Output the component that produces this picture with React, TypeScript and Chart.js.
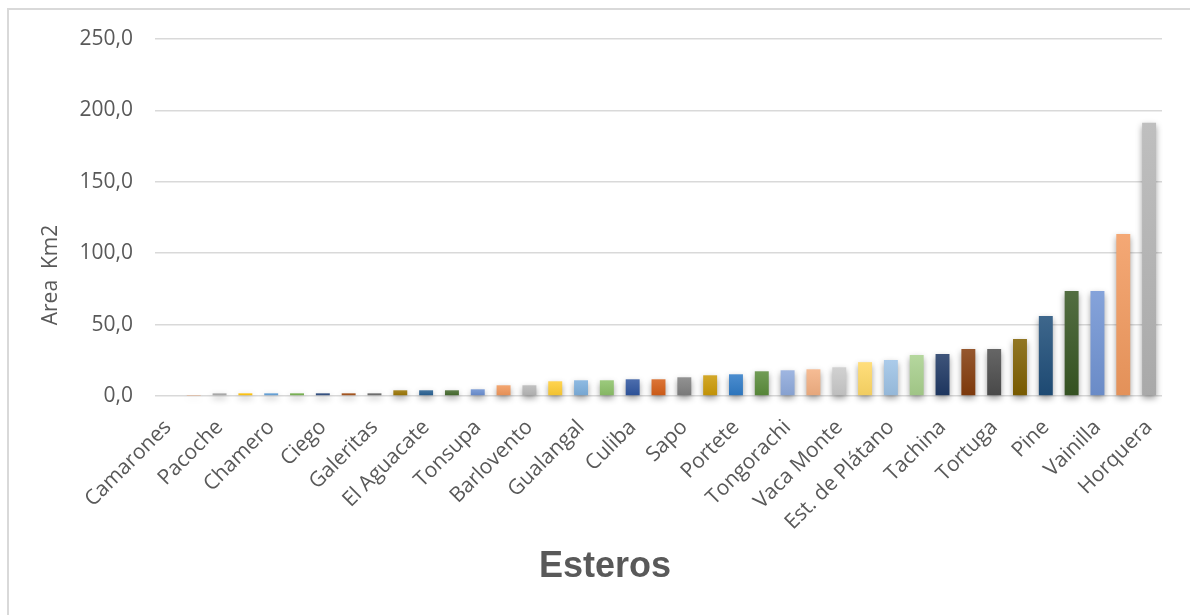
import { useEffect, useRef } from "react";
import { Chart, registerables } from "chart.js";

Chart.register(...registerables);

// 39 esteros, sorted by area; only every other name is printed on the axis
const categories = [
  "Camarones", "", "Pacoche", "", "Chamero", "", "Ciego", "", "Galeritas", "",
  "El Aguacate", "", "Tonsupa", "", "Barlovento", "", "Gualangal", "", "Culiba", "",
  "Sapo", "", "Portete", "", "Tongorachi", "", "Vaca Monte", "", "Est. de Plátano", "",
  "Tachina", "", "Tortuga", "", "Pine", "", "Vainilla", "", "Horquera",
];

const areas = [
  0, 0.7, 1.9, 1.9, 1.9, 1.9, 1.9, 1.9, 1.9, 4.0,
  4.0, 4.0, 4.7, 7.5, 7.5, 10.3, 11.0, 11.0, 11.7, 11.7,
  13.1, 14.5, 15.2, 17.3, 18.0, 18.7, 20.1, 23.7, 25.2, 28.7,
  29.4, 32.9, 32.9, 39.9, 56.1, 73.6, 73.6, 113.5, 191.3,
];

const barColors = [
  "#4472c4", "#ed7d31", "#a5a5a5", "#ffc000", "#5b9bd5", "#70ad47", "#264478", "#9e480e", "#636363", "#997300",
  "#255e91", "#43682b", "#698ed0", "#f1975a", "#b7b7b7", "#ffcd33", "#7cafdd", "#8cc168", "#2f55a0", "#d65f17",
  "#808080", "#cc9a06", "#2f7bc7", "#5a8c3a", "#8faadc", "#f4b183", "#c9c9c9", "#ffd966", "#9dc3e6", "#a9d18e",
  "#1f3864", "#843c0c", "#4d4d4d", "#7f6000", "#1f4e79", "#375623", "#7194d4", "#f29a5f", "#b4b4b4",
];

const yMax = 250;
const yStep = 50;

function shade(hex: string, amt: number) {
  const n = parseInt(hex.slice(1), 16);
  const ch = [(n >> 16) & 255, (n >> 8) & 255, n & 255].map((c) =>
    Math.round(amt >= 0 ? c + (255 - c) * amt : c * (1 + amt))
  );
  return `rgb(${ch[0]},${ch[1]},${ch[2]})`;
}

const barShadow = {
  id: "barShadow",
  beforeDatasetsDraw(chart: any) {
    const ctx = chart.ctx;
    ctx.save();
    ctx.shadowColor = "rgba(0,0,0,0.38)";
    ctx.shadowBlur = 6;
    ctx.shadowOffsetX = 0;
    ctx.shadowOffsetY = 3;
  },
  afterDatasetsDraw(chart: any) {
    chart.ctx.restore();
  },
};

const axisTitles = {
  id: "axisTitles",
  afterDraw(chart: any) {
    const { ctx, chartArea } = chart;
    ctx.save();
    ctx.fillStyle = "#595959";
    ctx.textAlign = "center";
    ctx.textBaseline = "middle";
    ctx.font = "21px 'Open Sans'";
    ctx.translate(chartArea.left - 104, chartArea.bottom - 121);
    ctx.rotate(-Math.PI / 2);
    ctx.fillText("Area  Km2", 0, 0);
    ctx.restore();
    ctx.save();
    ctx.fillStyle = "#595959";
    ctx.textAlign = "center";
    ctx.textBaseline = "middle";
    ctx.font = "bold 36px 'Liberation Sans'";
    ctx.fillText("Esteros", chartArea.left + 450, chartArea.bottom + 171);
    ctx.restore();
  },
};

function EsterosChart() {
  const ref = useRef<HTMLCanvasElement>(null);

  useEffect(() => {
    const canvas = ref.current;
    if (!canvas) return;
    const chart = new Chart(canvas, {
      type: "bar",
      data: {
        labels: categories,
        datasets: [
          {
            data: areas,
            clip: false as any,
            borderWidth: 0,
            categoryPercentage: 1,
            barPercentage: 0.54,
            backgroundColor: (c: any) => {
              const base = barColors[c.dataIndex % barColors.length];
              const area = c.chart.chartArea;
              if (!area || c.type !== "data") return base;
              const y = c.chart.scales.y;
              const top = y.getPixelForValue(areas[c.dataIndex]);
              const bottom = y.getPixelForValue(0);
              if (bottom - top < 2) return base;
              const g = c.chart.ctx.createLinearGradient(0, top, 0, bottom);
              g.addColorStop(0, shade(base, 0.14));
              g.addColorStop(1, shade(base, -0.06));
              return g;
            },
          },
        ],
      },
      options: {
        animation: false,
        responsive: true,
        maintainAspectRatio: false,
        layout: { padding: { top: 39, right: 28, left: 0, bottom: 0 } },
        plugins: { legend: { display: false }, tooltip: { enabled: false } },
        scales: {
          x: {
            grid: { display: false },
            border: { display: false },
            ticks: {
              autoSkip: false,
              minRotation: 45,
              maxRotation: 45,
              padding: 11,
              color: "#595959",
              font: { family: "'Open Sans'", size: 21 },
            },
            afterFit: (s: any) => {
              s.height = 219;
            },
          },
          y: {
            min: 0,
            max: yMax,
            border: { display: false },
            grid: { color: "#d9d9d9", lineWidth: 1.5, drawTicks: false },
            ticks: {
              stepSize: yStep,
              padding: 22,
              color: "#595959",
              font: { family: "'Open Sans'", size: 21 },
              callback: (v: any) => Number(v).toFixed(1).replace(".", ","),
            },
            afterFit: (s: any) => {
              s.width = 155;
            },
          },
        },
      },
      plugins: [barShadow, axisTitles],
    });
    return () => chart.destroy();
  }, []);

  return (
    <div style={{ position: "fixed", left: 0, top: 0, width: 1190, height: 615, overflow: "hidden", background: "#fff" }}>
      <div
        style={{
          position: "absolute",
          left: 7,
          top: 8,
          width: 1300,
          height: 700,
          borderLeft: "2px solid #d9d9d9",
          borderTop: "2px solid #d9d9d9",
        }}
      />
      <div style={{ position: "absolute", left: 0, top: 0, width: 1190, height: 615 }}>
        <canvas ref={ref} />
      </div>
    </div>
  );
}

export default function App() {
  return <EsterosChart />;
}
